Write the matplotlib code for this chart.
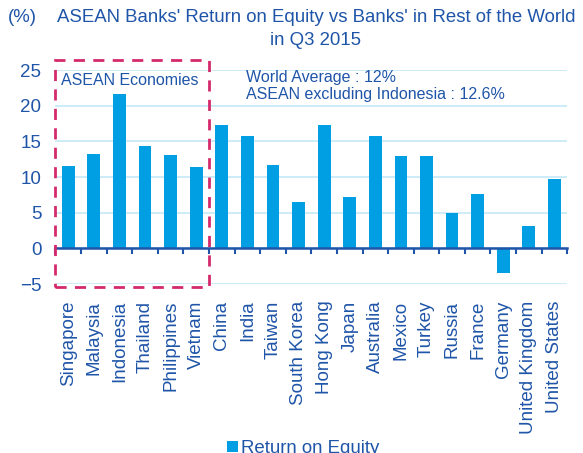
import numpy             as np
import matplotlib.pyplot as plt
from matplotlib.patches import Rectangle

plt.rcParams['font.family'] = ['Liberation Sans', 'DejaVu Sans']

COUNTRIES = ['Singapore', 'Malaysia', 'Indonesia', 'Thailand', 'Philippines', 'Vietnam',
             'China', 'India', 'Taiwan', 'South Korea', 'Hong Kong', 'Japan', 'Australia',
             'Mexico', 'Turkey', 'Russia', 'France', 'Germany', 'United Kingdom', 'United States']
ROE       = [11.5, 13.2, 21.6, 14.3, 13.1, 11.4,
             17.3, 15.8, 11.7, 6.5, 17.3, 7.2, 15.7,
             13.0, 13.0, 4.9, 7.6, -3.4, 3.2, 9.8]
Y_TICKS   = [-5, 0, 5, 10, 15, 20, 25]
N_ASEAN   = 6

TEXT_BLUE = '#1F55A8'
BAR_BLUE  = '#009FE3'
GRID_BLUE = '#C5E8F7'
BOX_RED   = '#D42A6B'

fig = plt.figure(figsize = (5.83, 4.53), dpi = 100)
ax  = fig.add_axes([0.095, 0.373, 0.878, 0.472])

x = np.arange(len(COUNTRIES))
ax.bar(x, ROE, width = 0.5, color = BAR_BLUE, label = 'Return on Equity', zorder = 3)

ax.set_xlim(-0.5, len(COUNTRIES) - 0.5)
ax.set_ylim(-5, 25)
ax.set_yticks(Y_TICKS)
ax.yaxis.grid(True, color = GRID_BLUE, linewidth = 1.2, zorder = 0)
ax.tick_params(axis = 'y', length = 0, labelsize = 13.5, labelcolor = TEXT_BLUE, pad = 10)

for side in ['left', 'right', 'top']:
  ax.spines[side].set_visible(False)

# zero line with tick marks between categories
ax.spines['bottom'].set_position(('data', 0))
ax.spines['bottom'].set_color(TEXT_BLUE)
ax.spines['bottom'].set_linewidth(1.8)
ax.spines['bottom'].set_zorder(4)
ax.set_xticks(np.arange(len(COUNTRIES) + 1) - 0.5)
ax.tick_params(axis = 'x', direction = 'out', length = 4, width = 1.5, color = TEXT_BLUE, labelbottom = False)

# category labels under the plot area
sec = ax.secondary_xaxis('bottom')
sec.set_xticks(x, COUNTRIES, rotation = 90)
sec.spines['bottom'].set_visible(False)
sec.tick_params(length = 0, labelsize = 13.5, labelcolor = TEXT_BLUE, pad = 12)

# dashed box around the ASEAN economies
ax.add_patch(Rectangle((-0.5, -5.35), N_ASEAN, 31.85, fill = False, edgecolor = BOX_RED,
                       linestyle = (0, (4, 3)), linewidth = 2, clip_on = False, zorder = 5))
ax.text(-0.28, 24.6, 'ASEAN Economies', color = TEXT_BLUE, fontsize = 11.5, va = 'top')
ax.text(6.95, 25.0, 'World Average : 12%\nASEAN excluding Indonesia : 12.6%',
        color = TEXT_BLUE, fontsize = 11.5, va = 'top', linespacing = 1.15)

fig.text(0.014, 0.98, '(%)', color = TEXT_BLUE, fontsize = 13.4, va = 'top')
fig.text(0.542, 0.98, "ASEAN Banks' Return on Equity vs Banks' in Rest of the World\nin Q3 2015",
         color = TEXT_BLUE, fontsize = 13.4, va = 'top', ha = 'center', linespacing = 1.45)

fig.legend(loc = 'lower center', bbox_to_anchor = (0.52, -0.046), frameon = False, fontsize = 13.4,
           labelcolor = TEXT_BLUE, handlelength = 0.6, handleheight = 0.6, handletextpad = 0.2)

fig.savefig('out.png', dpi = 100)
